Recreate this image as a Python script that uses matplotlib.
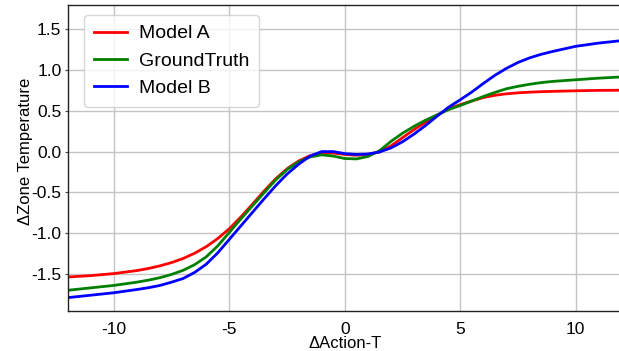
import matplotlib
matplotlib.use("Agg")
from matplotlib import pyplot as plt

# %% response curves

action_t = [-12, -11, -10, -9, -8.5, -8, -7.5, -7, -6.5, -6, -5.5, -5, -4.5, -4, -3.5,
            -3, -2.5, -2, -1.5, -1, -0.5, 0, 0.5, 1, 1.5, 2, 2.5, 3, 3.5, 4, 4.5,
            5, 5.5, 6, 6.5, 7, 7.5, 8, 8.5, 9, 10, 11, 12]

model_a = [-1.537, -1.52, -1.495, -1.458, -1.432, -1.40, -1.36, -1.31, -1.245, -1.165,
           -1.065, -0.945, -0.80, -0.645, -0.485, -0.335, -0.21, -0.115, -0.05, -0.018,
           -0.018, -0.035, -0.045, -0.035, -0.005, 0.07, 0.17, 0.27, 0.36, 0.445, 0.525,
           0.575, 0.62, 0.662, 0.69, 0.708, 0.72, 0.728, 0.734, 0.738, 0.745, 0.75, 0.752]

ground_truth = [-1.70, -1.67, -1.64, -1.60, -1.575, -1.545, -1.505, -1.455, -1.385, -1.29,
                -1.155, -0.99, -0.825, -0.665, -0.505, -0.35, -0.22, -0.125, -0.065, -0.04,
                -0.055, -0.085, -0.09, -0.06, 0.01, 0.125, 0.225, 0.31, 0.385, 0.45, 0.515,
                0.565, 0.62, 0.675, 0.725, 0.77, 0.80, 0.825, 0.845, 0.86, 0.88, 0.90, 0.915]

model_b = [-1.79, -1.76, -1.73, -1.69, -1.668, -1.64, -1.60, -1.555, -1.48, -1.38,
           -1.24, -1.075, -0.91, -0.745, -0.58, -0.42, -0.275, -0.155, -0.055, 0.0,
           0.0, -0.025, -0.035, -0.03, -0.005, 0.045, 0.12, 0.215, 0.32, 0.435, 0.545,
           0.635, 0.73, 0.835, 0.935, 1.02, 1.092, 1.148, 1.192, 1.227, 1.29, 1.33, 1.36]

# %% plot

plt.rcParams["font.family"] = ["Liberation Sans", "DejaVu Sans"]
plt.rcParams["axes.unicode_minus"] = False

fig = plt.figure(figsize=(6.19, 3.51), dpi=100)
ax = fig.add_axes([0.1094, 0.1148, 0.8953, 0.8718])

ax.plot(action_t, model_a, color="red", lw=2, label="Model A")
ax.plot(action_t, ground_truth, color="green", lw=2, label="GroundTruth")
ax.plot(action_t, model_b, color="blue", lw=2, label="Model B")

ax.set_xlim(-12, 12)
ax.set_ylim(-1.95, 1.8)
ax.set_xticks([-10, -5, 0, 5, 10])
ax.set_yticks([-1.5, -1.0, -0.5, 0.0, 0.5, 1.0, 1.5])
ax.grid(True, color="#c4c4c4", lw=1)
ax.set_axisbelow(True)
ax.tick_params(axis="x", length=0, labelsize=12.5, pad=8)
ax.tick_params(axis="y", length=2.5, width=0.8, labelsize=12.5, pad=2, color="#444444")

for side in ["left", "bottom", "top", "right"]:
    ax.spines[side].set_color("#222222")
    ax.spines[side].set_linewidth(1)

ax.set_xlabel("\u0394Action-T", fontsize=12, labelpad=-0.5)
ax.set_ylabel("\u0394Zone Temperature", fontsize=12)
ax.yaxis.set_label_coords(-0.063, 0.522)

ax.legend(loc="upper left", bbox_to_anchor=(0.0294, 0.966), borderaxespad=0,
          fontsize=14, handlelength=1.7, handletextpad=0.62, borderpad=0.5,
          labelspacing=0.5, framealpha=0.8, edgecolor="#cccccc")

fig.savefig("out.png", dpi=100)
